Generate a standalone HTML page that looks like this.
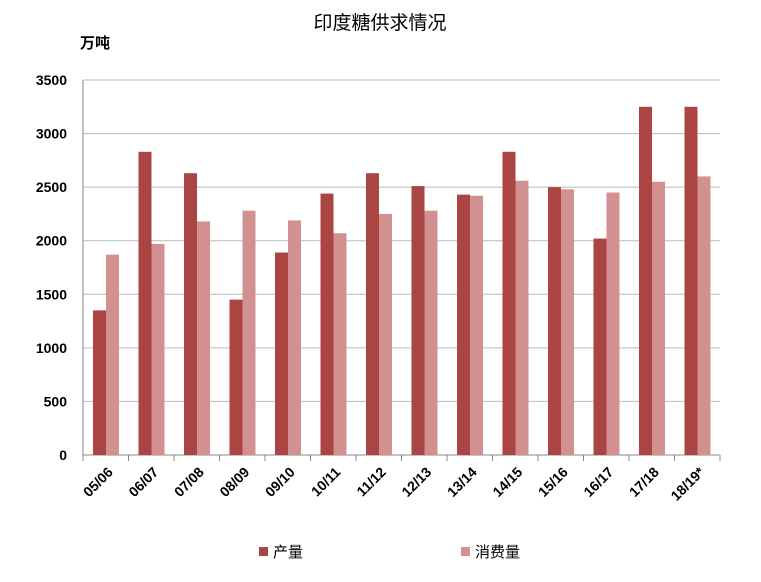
<!DOCTYPE html>
<html><head><meta charset="utf-8">
<style>
body{margin:0;background:#fff;}
svg text{font-family:"Liberation Sans","Noto Sans CJK SC",sans-serif;}
</style></head>
<body>
<svg id="chart" width="761" height="577" xmlns="http://www.w3.org/2000/svg">
<rect width="761" height="577" fill="#fff"/>
<text x="380" y="29" text-anchor="middle" font-size="19" fill="#000">印度糖供求情况</text>
<text x="80" y="48" font-size="15" font-weight="bold" fill="#000">万吨</text>
<g id="grid"></g>
<g id="bars"></g>
<g id="axes"></g>
<g>
<rect x="259" y="547" width="9" height="9" fill="#AB4543"/>
<text x="273" y="557" font-size="15">产量</text>
<rect x="461" y="547" width="9" height="9" fill="#D39090"/>
<text x="475" y="557" font-size="15">消费量</text>
</g>
</svg>
<script>
const categories=["05/06","06/07","07/08","08/09","09/10","10/11","11/12","12/13","13/14","14/15","15/16","16/17","17/18","18/19*"];
const production=[1350,2830,2630,1450,1890,2440,2630,2510,2430,2830,2500,2020,3250,3250];
const consumption=[1870,1970,2180,2280,2190,2070,2250,2280,2420,2560,2480,2450,2550,2600];
const yTicks=[0,500,1000,1500,2000,2500,3000,3500];
const NS="http://www.w3.org/2000/svg";
const x0=83,x1=720,yTop=80,yBot=455,yMax=3500;
const band=(x1-x0)/categories.length;
const y=v=>yBot-(v/yMax)*(yBot-yTop);
const xc=i=>x0+band*i;
function mk(tag,attrs,parent){const e=document.createElementNS(NS,tag);for(const k in attrs)e.setAttribute(k,attrs[k]);parent.appendChild(e);return e;}
const grid=document.getElementById('grid'),bars=document.getElementById('bars'),axes=document.getElementById('axes');
yTicks.forEach(t=>{
  const l=mk('line',{x1:x0,x2:x1,y1:y(t),y2:y(t),stroke:t===0?'#888':'#bbb','stroke-width':1},grid);
  
  
  const tx=mk('text',{x:67,y:y(t)+5,'text-anchor':'end','font-size':14,'font-weight':'bold'},axes);
  tx.textContent=t;
  
  
});
const ya=mk('line',{x1:x0,x2:x0,y1:yTop,y2:yBot,stroke:'#888'},axes);


const bw=13;
categories.forEach((c,i)=>{
  const s=xc(i)+10;
  const b1=mk('rect',{x:s,y:y(production[i]),width:bw,height:yBot-y(production[i]),fill:'#AB4543'},bars);
  
  
  const b2=mk('rect',{x:s+bw,y:y(consumption[i]),width:bw,height:yBot-y(consumption[i]),fill:'#D39090'},bars);
  
  
  const tk=mk('line',{x1:xc(i),x2:xc(i),y1:yBot,y2:yBot+6,stroke:'#888'},axes);
  
  
  const cx=xc(i)+band/2+8, cy=yBot+18;
  const lb=mk('text',{x:cx,y:cy,'text-anchor':'end','font-size':14,'font-weight':'bold',transform:`rotate(-45 ${cx} ${cy})`},axes);
  lb.textContent=c;
  
  
});
const tkEnd=mk('line',{x1:x1,x2:x1,y1:yBot,y2:yBot+6,stroke:'#888'},axes);


</script>
</body></html>
